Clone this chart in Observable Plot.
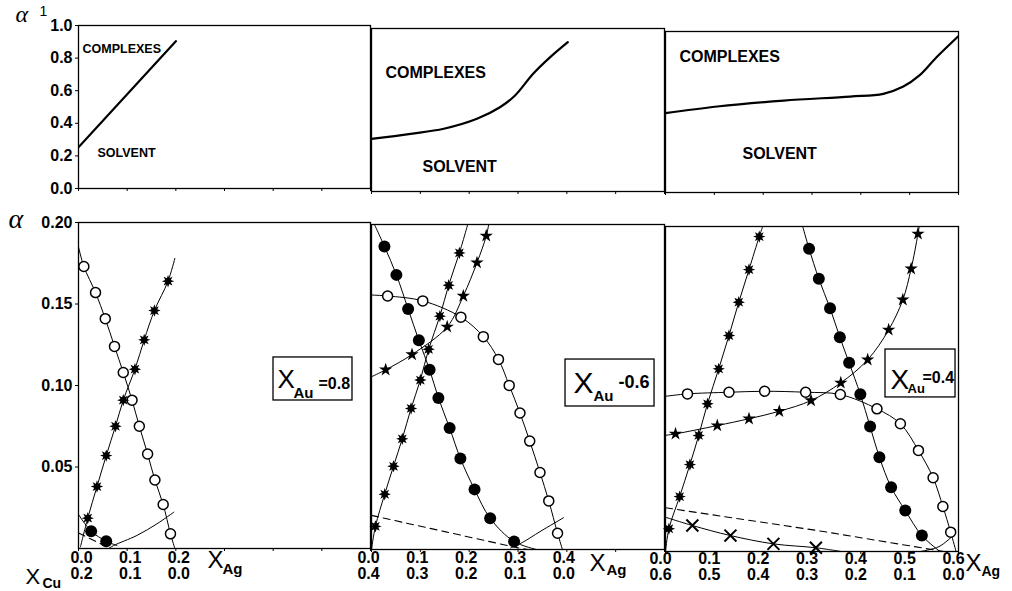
<!DOCTYPE html>
<html><head><meta charset="utf-8">
<script src="https://cdn.jsdelivr.net/npm/d3@7"></script>
<script src="https://cdn.jsdelivr.net/npm/@observablehq/plot@0.6"></script>
<style>
html,body{margin:0;padding:0;background:#fff;}
#chart{position:relative;width:1012px;height:591px;overflow:hidden;background:#fff;}
#chart svg{position:absolute;left:0;top:0;}
</style></head><body><div id="chart"></div>
<script>
// ---------- tick values and labels ----------
const xTicks = [0, 0.1, 0.2, 0.3, 0.4, 0.5, 0.6];
const topYTicks = [0, 0.2, 0.4, 0.6, 0.8, 1.0];
const topYLabels = ["0.0", "0.2", "0.4", "0.6", "0.8", "1.0"];
const botYTicks = [0.05, 0.10, 0.15, 0.20];
const botYLabels = ["0.05", "0.10", "0.15", "0.20"];
const p1Ticks = [0, 0.1, 0.2];
const p1Ag = ["0.0", "0.1", "0.2"];
const p1Cu = ["0.2", "0.1", "0.0"];
const p2Ticks = [0, 0.1, 0.2, 0.3, 0.4];
const p2Ag = ["0.0", "0.1", "0.2", "0.3", "0.4"];
const p2Cu = ["0.4", "0.3", "0.2", "0.1", "0.0"];
const p3Ticks = [0, 0.1, 0.2, 0.3, 0.4, 0.5, 0.6];
const p3Ag = ["0.0", "0.1", "0.2", "0.3", "0.4", "0.5", "0.6"];
const p3Cu = ["0.6", "0.5", "0.4", "0.3", "0.2", "0.1", "0.0"];

// ---------- top row: alpha' curves ----------
const top1Curve = [[0, 0.253], [0.2, 0.904]];
const top2Curve = [[0, 0.323], [0.08, 0.354], [0.148, 0.385], [0.216, 0.446], [0.263, 0.517], [0.294, 0.589], [0.331, 0.722], [0.366, 0.824], [0.402, 0.916]];
const top3Curve = [[0, 0.4925], [0.106, 0.534], [0.242, 0.571], [0.378, 0.596], [0.446, 0.613], [0.487, 0.658], [0.52, 0.727], [0.555, 0.84], [0.599, 0.969]];

// ---------- bottom panel 1 (X_Au = 0.8) ----------
const b1Open = [[0.011, 0.173], [0.035, 0.157], [0.055, 0.141], [0.074, 0.124], [0.092, 0.108], [0.110, 0.091], [0.125, 0.075], [0.142, 0.058], [0.157, 0.042], [0.174, 0.027], [0.189, 0.009]];
const b1OpenLine = [[0, 0.185], ...b1Open, [0.198, 0]];
const b1Ast = [[0.019, 0.0186], [0.038, 0.038], [0.057, 0.057], [0.076, 0.075], [0.092, 0.091], [0.116, 0.110], [0.135, 0.128], [0.156, 0.146], [0.184, 0.164]];
const b1AstLine = [[0.004, 0.001], ...b1Ast, [0.198, 0.178]];
const b1Filled = [[0.026, 0.0106], [0.057, 0.0045]];
const b1FilledLine = [[0, 0.0209], ...b1Filled, [0.079, 0.0018]];
const b1Dash = [[0, 0.0095], [0.065, 0]];
const b1Para = [[0.062, 0], [0.072, 0.0018], [0.12, 0.008], [0.161, 0.0151], [0.196, 0.0223]];

// ---------- bottom panel 2 (X_Au = 0.6) ----------
const b2Filled = [[0.0265, 0.1865], [0.051, 0.169], [0.075, 0.148], [0.097, 0.1287], [0.119, 0.1106], [0.137, 0.0933], [0.160, 0.0748], [0.182, 0.056], [0.211, 0.037], [0.243, 0.0192], [0.292, 0.0049]];
const b2FilledLine = [[0.003, 0.202], ...b2Filled, [0.338, 0]];
const b2Open = [[0.033, 0.156], [0.105, 0.153], [0.183, 0.143], [0.229, 0.131], [0.260, 0.117], [0.282, 0.101], [0.304, 0.084], [0.324, 0.0667], [0.345, 0.0474], [0.363, 0.0299], [0.381, 0.010]];
const b2OpenLine = [[0, 0.1566], ...b2Open, [0.391, 0]];
const b2Ast = [[0.008, 0.0142], [0.027, 0.034], [0.045, 0.0512], [0.063, 0.0681], [0.081, 0.0868], [0.100, 0.1043], [0.117, 0.1232], [0.140, 0.1436], [0.158, 0.1626], [0.180, 0.1825]];
const b2AstLine = [[0, 0], ...b2Ast, [0.197, 0.2]];
const b2Star = [[0.029, 0.1106], [0.083, 0.120], [0.155, 0.137], [0.188, 0.156], [0.216, 0.1765], [0.235, 0.193]];
const b2StarLine = [[0, 0.1063], ...b2Star, [0.243, 0.205]];
const b2Dash = [[0, 0.021], [0.15, 0.011], [0.30, 0.001], [0.32, 0]];
const b2Para = [[0.285, 0.001], [0.31, 0.0045], [0.345, 0.011], [0.393, 0.0195]];

// ---------- bottom panel 3 (X_Au = 0.4) ----------
const b3Ast = [[0.007, 0.014], [0.029, 0.0338], [0.050, 0.0535], [0.068, 0.0714], [0.086, 0.0909], [0.109, 0.1124], [0.130, 0.1329], [0.150, 0.1534], [0.171, 0.1735], [0.192, 0.1938]];
const b3AstLine = [[0, 0], ...b3Ast, [0.199, 0.2]];
const b3Filled = [[0.294, 0.1863], [0.314, 0.1678], [0.337, 0.1497], [0.357, 0.1319], [0.376, 0.1161], [0.399, 0.0967], [0.419, 0.0769], [0.438, 0.058], [0.462, 0.0396], [0.491, 0.0252], [0.525, 0.0098]];
const b3FilledLine = [[0.281, 0.2], ...b3Filled, [0.562, 0]];
const b3Open = [[0.045, 0.097], [0.130, 0.098], [0.203, 0.0986], [0.287, 0.098], [0.358, 0.0966], [0.433, 0.0878], [0.481, 0.0786], [0.518, 0.0622], [0.548, 0.0454], [0.568, 0.0277], [0.584, 0.0119]];
const b3OpenLine = [[0, 0.0955], ...b3Open, [0.595, 0]];
const b3Star = [[0.0205, 0.0724], [0.106, 0.0775], [0.171, 0.0817], [0.233, 0.0863], [0.298, 0.0929], [0.359, 0.1038], [0.414, 0.118], [0.457, 0.1364], [0.486, 0.1549], [0.503, 0.174], [0.517, 0.1955]];
const b3StarLine = [[0, 0.0715], ...b3Star, [0.522, 0.205]];
const b3Cross = [[0.055, 0.016], [0.133, 0.0098], [0.221, 0.0047], [0.308, 0.0023]];
const b3CrossLine = [[0, 0.0211], ...b3Cross, [0.36, 0]];
const b3Dash = [[0, 0.0269], [0.311, 0.0129], [0.57, 0]];
const b3Para = [[0.522, 0], [0.56, 0.003], [0.589, 0.0098]];

// ---------- annotation boxes (X_Au) ----------
const auBox1 = [{x1: 0.4007, x2: 0.563, y1: 0.0908, y2: 0.1172}];
const auBox2 = [{x1: 0.3973, x2: 0.5796, y1: 0.0880, y2: 0.1169}];
const auBox3 = [{x1: 0.4505, x2: 0.5939, y1: 0.0948, y2: 0.1243}];

// ---------- helpers ----------
const chart = document.getElementById("chart");
const FONT = "Liberation Sans, Arial, Helvetica, sans-serif";
const SERIF = "Liberation Serif, DejaVu Serif, serif";
const X = d => d[0], Y = d => d[1];

const burst = {
  draw(ctx, size) {
    const r = Math.sqrt(size / Math.PI), ri = r * 0.5;
    for (let i = 0; i < 16; ++i) {
      const a = i * Math.PI / 8, rr = i % 2 ? ri : r;
      const px = rr * Math.sin(a), py = -rr * Math.cos(a);
      i ? ctx.lineTo(px, py) : ctx.moveTo(px, py);
    }
    ctx.closePath();
  }
};

const line = (data, o = {}) => Plot.line(data, {x: X, y: Y, curve: "catmull-rom", stroke: "black", strokeWidth: 1, clip: true, ...o});
const dash = (data) => line(data, {strokeDasharray: "7,5", curve: "linear", strokeWidth: 1.1});
const openDots = data => Plot.dot(data, {x: X, y: Y, r: 5, fill: "white", stroke: "black", strokeWidth: 1.5});
const filledDots = data => Plot.dot(data, {x: X, y: Y, r: 6, fill: "black", stroke: "none"});
const burstDots = data => Plot.dot(data, {x: X, y: Y, r: 6.2, symbol: burst, fill: "black", stroke: "none"});
const starDots = data => Plot.dot(data, {x: X, y: Y, r: 4.2, symbol: "star", fill: "black", stroke: "none"});
const crossDots = data => Plot.dot(data, {x: X, y: Y, r: 5.5, symbol: "times", stroke: "black", strokeWidth: 2, fill: "none"});

function lbl(text, dx, dy, o = {}) {
  return Plot.text([text], {text: d => d, frameAnchor: "top-left", dx, dy, textAnchor: "start", lineAnchor: "bottom", fill: "black", ...o});
}
function box(data) {
  return Plot.rect(data, {x1: "x1", x2: "x2", y1: "y1", y2: "y2", fill: "white", stroke: "black", strokeWidth: 1.3});
}
function xRows(ticks, ag, cu, dx, dy1, dy2) {
  return [
    Plot.text(ticks, {x: d => d, text: (d, i) => ag[i], frameAnchor: "bottom", dx, dy: dy1, fontSize: 16, fontWeight: "bold"}),
    Plot.text(ticks, {x: d => d, text: (d, i) => cu[i], frameAnchor: "bottom", dx, dy: dy2, fontSize: 16, fontWeight: "bold"})
  ];
}
const xTickMarks = () => Plot.axisX({ticks: xTicks, tickSize: 3, tickFormat: () => "", label: null, strokeWidth: 1});

function panel(f, yDomain, hasYAxis, marks) {
  const svg = Plot.plot({
    width: 1012, height: 591,
    marginLeft: f.l, marginRight: 1012 - f.r, marginTop: f.t, marginBottom: 591 - f.b,
    x: {domain: [0, 0.6]},
    y: hasYAxis ? {domain: yDomain} : {domain: yDomain, axis: null},
    style: {background: "none", overflow: "visible", fontFamily: FONT, fontSize: "16px", fontWeight: "bold", color: "black", maxWidth: "none"},
    marks: [...marks, Plot.frame({stroke: "black", strokeWidth: 1.3})]
  });
  chart.append(svg);
}

// ---------- layout frames ----------
const T1 = {l: 78, r: 370, t: 25, b: 188}, T2 = {l: 371, r: 664, t: 28, b: 191}, T3 = {l: 665, r: 958, t: 31, b: 192};
const B1 = {l: 78, r: 370, t: 222, b: 548}, B2 = {l: 371, r: 664, t: 224, b: 549}, B3 = {l: 665, r: 958, t: 226, b: 551};
const topLabelMap = new Map(topYTicks.map((t, i) => [t, topYLabels[i]]));
const botLabelMap = new Map(botYTicks.map((t, i) => [t, botYLabels[i]]));

// ---------- top row ----------
panel(T1, [0, 1], true, [
  Plot.axisY({ticks: topYTicks, tickSize: 3, tickPadding: 3, tickFormat: d => topLabelMap.get(d), label: null, fontSize: 16, fontWeight: "bold"}),
  xTickMarks(),
  line(top1Curve, {strokeWidth: 2.2, curve: "linear"}),
  lbl("COMPLEXES", 4, 27, {fontSize: 12.5, fontWeight: "bold"}),
  lbl("SOLVENT", 19, 131, {fontSize: 12.5, fontWeight: "bold"}),
  lbl("α", -63, -4, {fontSize: 24, fontWeight: "normal", fontStyle: "italic", fontFamily: SERIF}),
  lbl("1", -39, -10, {fontSize: 14, fontWeight: "normal"})
]);
panel(T2, [0, 1], false, [
  xTickMarks(),
  line(top2Curve, {strokeWidth: 2.2}),
  lbl("COMPLEXES", 14, 49, {fontSize: 16}),
  lbl("SOLVENT", 51, 143, {fontSize: 16})
]);
panel(T3, [0, 1], false, [
  xTickMarks(),
  line(top3Curve, {strokeWidth: 2.2}),
  lbl("COMPLEXES", 14, 30, {fontSize: 16}),
  lbl("SOLVENT", 77, 127, {fontSize: 16})
]);

// ---------- bottom row ----------
panel(B1, [0, 0.2], true, [
  Plot.axisY({ticks: botYTicks, tickSize: 3, tickPadding: 3, tickFormat: d => botLabelMap.get(d), label: null, fontSize: 16, fontWeight: "bold"}),
  xTickMarks(),
  ...xRows(p1Ticks, p1Ag, p1Cu, 3, 14, 30),
  line(b1OpenLine), line(b1AstLine), line(b1FilledLine), line(b1Para), dash(b1Dash),
  openDots(b1Open), burstDots(b1Ast), filledDots(b1Filled),
  box(auBox1),
  lbl("X", 199, 165, {fontSize: 26, fontWeight: "normal"}),
  lbl("Au", 215, 175, {fontSize: 15}),
  lbl("=0.8", 240, 166, {fontSize: 16}),
  lbl("X", 129, 345, {fontSize: 24, fontWeight: "normal"}),
  lbl("Ag", 144, 351, {fontSize: 15}),
  lbl("X", -53, 361, {fontSize: 22, fontWeight: "normal"}),
  lbl("Cu", -36, 365, {fontSize: 14}),
  lbl("α", -70, 5, {fontSize: 28, fontWeight: "normal", fontStyle: "italic", fontFamily: SERIF})
]);
panel(B2, [0, 0.2], false, [
  xTickMarks(),
  ...xRows(p2Ticks, p2Ag, p2Cu, -3, 13, 29),
  line(b2FilledLine), line(b2OpenLine), line(b2AstLine), line(b2StarLine), line(b2Para), dash(b2Dash),
  filledDots(b2Filled), openDots(b2Open), burstDots(b2Ast), starDots(b2Star),
  box(auBox2),
  lbl("X", 202, 168, {fontSize: 30, fontWeight: "normal"}),
  lbl("Au", 222, 176, {fontSize: 15}),
  lbl("-0.6", 247, 163, {fontSize: 18}),
  lbl("X", 218, 346, {fontSize: 24, fontWeight: "normal"}),
  lbl("Ag", 235, 350, {fontSize: 15})
]);
panel(B3, [0, 0.2], false, [
  xTickMarks(),
  ...xRows(p3Ticks, p3Ag, p3Cu, -5, 12, 28),
  line(b3AstLine), line(b3FilledLine), line(b3OpenLine), line(b3StarLine), line(b3CrossLine), line(b3Para), dash(b3Dash),
  burstDots(b3Ast), filledDots(b3Filled), openDots(b3Open), starDots(b3Star), crossDots(b3Cross),
  box(auBox3),
  lbl("X", 225, 162, {fontSize: 28, fontWeight: "normal"}),
  lbl("Au", 242, 166, {fontSize: 13}),
  lbl("=0.4", 257, 156, {fontSize: 16}),
  lbl("X", 300, 344, {fontSize: 24, fontWeight: "normal"}),
  lbl("Ag", 316, 349, {fontSize: 14})
]);
</script></body></html>
